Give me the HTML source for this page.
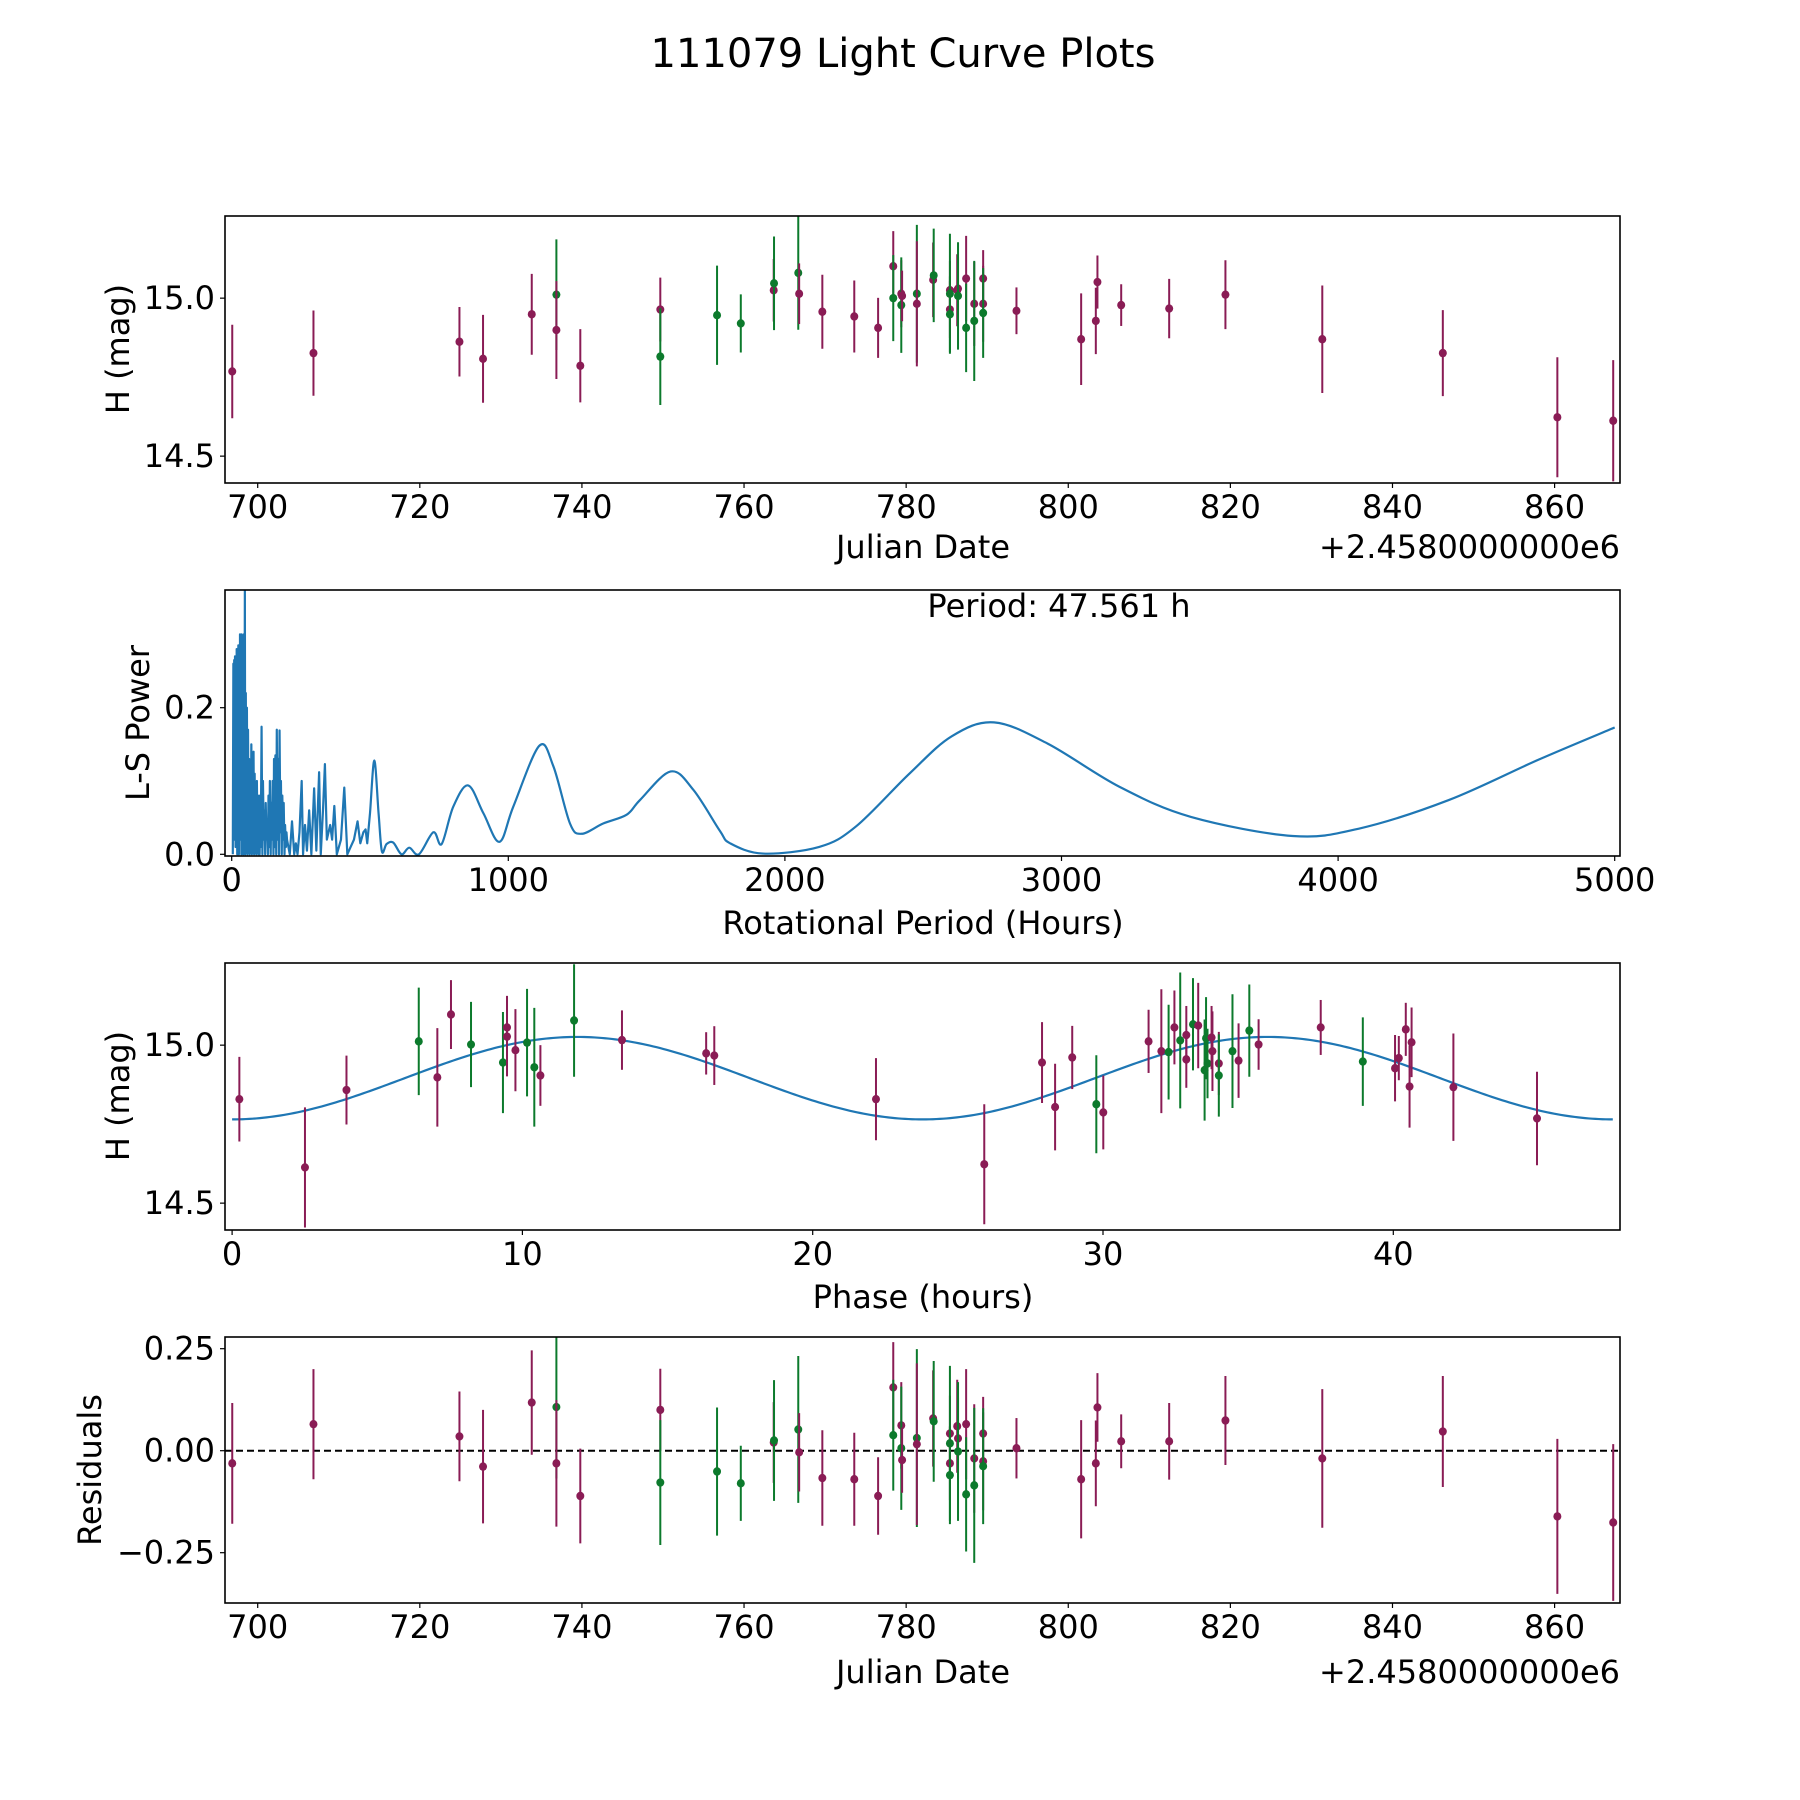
<!DOCTYPE html>
<html><head><meta charset="utf-8"><style>
html,body{margin:0;padding:0;background:#fff;}
svg{display:block;font-family:"DejaVu Sans","Liberation Sans",sans-serif;}
</style></head><body>
<svg id="fig" width="1800" height="1800" viewBox="0 0 1800 1800" xmlns="http://www.w3.org/2000/svg">
<rect width="1800" height="1800" fill="#fff"/>
<text x="903" y="54" font-size="40" text-anchor="middle" dominant-baseline="central">111079 Light Curve Plots</text>
</svg>
<script>
// ---- Data: observations (panels 1 & 4)
const jdVals = [696.86,706.88,724.89,727.8,733.81,736.85,736.85,739.8,749.67,749.67,756.67,759.6,763.66,763.7,766.69,766.8,769.66,773.6,776.54,778.41,778.41,779.4,779.4,779.5,781.32,781.32,783.33,783.4,785.4,785.4,785.4,785.4,786.3,786.4,786.4,787.4,787.4,788.4,788.4,789.5,789.5,789.5,793.61,801.59,803.4,803.6,806.53,812.45,819.39,831.34,846.21,860.34,867.23];
const magVals = [14.768,14.826,14.862,14.808,14.949,15.011,14.899,14.786,14.964,14.815,14.946,14.92,15.025,15.047,15.08,15.014,14.957,14.942,14.906,15.101,15.0,15.014,14.978,15.007,15.014,14.982,15.058,15.072,15.025,15.014,14.964,14.949,15.025,15.03,15.007,15.062,14.906,14.982,14.928,15.062,14.982,14.953,14.96,14.87,14.928,15.051,14.978,14.967,15.011,14.87,14.826,14.623,14.612];
const residVals = [-0.031,0.065,0.035,-0.039,0.118,0.107,-0.031,-0.111,0.10,-0.078,-0.051,-0.08,0.02,0.025,0.052,-0.004,-0.067,-0.07,-0.111,0.155,0.038,0.062,0.006,-0.023,0.031,0.016,0.079,0.072,0.042,0.018,-0.031,-0.06,0.06,0.03,-0.002,0.065,-0.107,-0.019,-0.085,0.042,-0.026,-0.038,0.006,-0.07,-0.031,0.106,0.023,0.023,0.074,-0.019,0.047,-0.161,-0.176];
const errVals = [0.148,0.135,0.11,0.139,0.128,0.175,0.155,0.116,0.101,0.153,0.157,0.092,0.099,0.148,0.18,0.096,0.117,0.114,0.095,0.111,0.136,0.106,0.151,0.08,0.218,0.198,0.118,0.148,0.093,0.19,0.09,0.12,0.114,0.1,0.17,0.135,0.14,0.133,0.19,0.09,0.12,0.142,0.074,0.145,0.105,0.084,0.066,0.094,0.109,0.17,0.136,0.19,0.192];
const filterVals = ['P','P','P','P','P','G','P','P','P','G','G','G','P','G','G','P','P','P','P','P','G','P','G','P','G','P','P','G','P','G','P','G','P','P','G','P','G','P','G','P','P','G','P','P','P','P','P','P','P','P','P','P','P'];
// ---- Data: phased (panel 3)
const phaseVals = [0.25,2.51,3.94,6.43,7.07,7.54,8.23,9.33,9.47,9.47,9.76,10.16,10.41,10.62,11.78,13.43,16.33,16.61,22.18,25.91,27.90,28.35,28.94,29.77,30.01,31.57,32.01,32.26,32.46,32.66,32.87,32.87,33.10,33.28,33.50,33.55,33.6,33.74,33.77,33.99,33.99,34.46,34.67,35.04,35.36,37.50,38.95,40.06,40.19,40.43,40.56,40.63,42.07,44.95];
const phaseMag = [14.829,14.613,14.858,15.012,14.898,15.097,15.002,14.945,15.056,15.027,14.984,15.008,14.93,14.904,15.078,15.016,14.974,14.967,14.829,14.623,14.945,14.804,14.961,14.813,14.787,15.012,14.981,14.978,15.056,15.015,15.032,14.955,15.066,15.062,14.921,15.022,14.942,15.024,14.981,14.942,14.904,14.981,14.951,15.046,15.002,15.056,14.948,14.927,14.959,15.05,14.869,15.009,14.867,14.768];
const phaseErr = [0.134,0.19,0.109,0.17,0.156,0.109,0.135,0.16,0.1,0.126,0.13,0.17,0.188,0.096,0.178,0.094,0.067,0.093,0.13,0.19,0.128,0.137,0.1,0.155,0.117,0.1,0.196,0.15,0.117,0.215,0.092,0.09,0.146,0.135,0.16,0.13,0.11,0.1,0.126,0.1,0.13,0.18,0.118,0.146,0.08,0.087,0.14,0.105,0.07,0.084,0.13,0.11,0.17,0.148];
const phaseFilter = ['P','P','P','G','P','P','G','G','P','P','P','G','G','P','G','P','P','P','P','P','P','P','P','G','P','P','P','G','P','G','P','P','G','P','G','G','G','P','P','P','G','G','P','G','P','P','G','P','P','P','P','P','P','P'];
const modelParams = [14.8955, 0.1305, 23.78, 47.561]; // mean, amplitude, half-period, period
// ---- Data: periodogram (panel 2)
const lsPeriods = [4,6,8,9,11,12,14,15,17,18,20,21,23,24,26,27,29,30,32,33,35,36,38,40,42,44,46,47.56,49,51,53,55,57,59,61,63,65,67,69,71,73,75,77,79,81,83,85,87,89,91,93,95,97,99,101,103,105,108,111,113,116,118,121,123,126,128,131,133,136,138,141,143,146,148,151,153,156,158,161,163,166,168,171,173,176,178,181,183,186,188,191,193,196,198,200,210,218,226,232,238,245,253,258,265,272,280,288,298,306,316,322,330,337,344,356,363,371,380,395,407,418,430,442,455,465,476,484,490,500,515.6,531,543,560,584,614,642,677,729,759,801,855,910,968,1018,1112,1163,1223,1265,1343,1428,1476,1587,1669,1765,1802,1921,2124,2257,2450,2603,2756,2950,3210,3468,3836,4075,4400,4724,5000];
const lsPower = [0.0,0.26,0.02,0.265,0.05,0.27,0.01,0.225,0.08,0.28,0.0,0.27,0.06,0.285,0.0,0.22,0.04,0.3,0.02,0.225,0.0,0.3,0.05,0.26,0.0,0.3,0.02,0.361,0.0,0.22,0.03,0.2,0.0,0.17,0.02,0.13,0.0,0.12,0.03,0.15,0.0,0.1,0.04,0.14,0.0,0.11,0.02,0.09,0.0,0.1,0.03,0.07,0.0,0.08,0.0,0.06,0.01,0.174,0.0,0.1,0.02,0.06,0.0,0.07,0.02,0.045,0.0,0.08,0.01,0.1,0.0,0.07,0.02,0.1,0.0,0.13,0.01,0.135,0.0,0.17,0.02,0.13,0.0,0.169,0.03,0.1,0.0,0.08,0.02,0.07,0.0,0.04,0.01,0.03,0.02,0.0,0.045,0.0,0.015,0.0,0.03,0.1,0.0,0.04,0.005,0.06,0.0,0.09,0.005,0.112,0.0,0.06,0.123,0.02,0.04,0.02,0.066,0.0,0.02,0.091,0.0,0.01,0.02,0.045,0.015,0.03,0.034,0.015,0.056,0.128,0.056,0.004,0.014,0.016,0.0,0.009,0.0,0.03,0.014,0.065,0.094,0.056,0.017,0.065,0.148,0.12,0.042,0.028,0.042,0.054,0.074,0.113,0.088,0.032,0.015,0.001,0.010,0.038,0.11,0.161,0.18,0.151,0.092,0.051,0.025,0.035,0.074,0.129,0.173];
// ---- Tick labels
const jdTicks = [700,720,740,760,780,800,820,840,860];
const magTicks = [15.0,14.5];
const lsXTicks = [0,1000,2000,3000,4000,5000];
const lsYTicks = [0.0,0.2];
const phaseTicks = [0,10,20,30,40];
const residTicks = [0.25,0.0,-0.25];

const NS='http://www.w3.org/2000/svg';
const svg=document.getElementById('fig');
const PURPLE='#8a1c55', GREEN='#0c7a2c', BLUE='#1f77b4';
const L=225, R=1620, FS=32;
function mk(tag,attrs,parent){const e=document.createElementNS(NS,tag);for(const k in attrs)e.setAttribute(k,attrs[k]);(parent||svg).appendChild(e);return e;}
function lin(d0,d1,p0,p1){return v=>p0+(v-d0)*(p1-p0)/(d1-d0);}

function panel(name,top,bot,xs,ys,xt,xtFmt,yt,ytFmt){
  const g=mk('g',{});
  
  
  const clipId='clip-'+name;
  const cp=mk('clipPath',{id:clipId},g);
  mk('rect',{x:L,y:top,width:R-L,height:bot-top},cp);
  const plot=mk('g',{'clip-path':'url(#'+clipId+')'},g);
  xt.forEach(v=>{const x=xs(v);
    mk('line',{x1:x,x2:x,y1:bot,y2:bot+5,stroke:'#000','stroke-width':1.2},g);
    const lb=mk('text',{x:x,y:bot+24,'font-size':FS,'text-anchor':'middle','dominant-baseline':'central'},g);
    lb.textContent=xtFmt(v);
    
    
  });
  yt.forEach(v=>{const y=ys(v);
    mk('line',{x1:L-5,x2:L,y1:y,y2:y,stroke:'#000','stroke-width':1.2},g);
    const lb=mk('text',{x:L-10,y:y,'font-size':FS,'text-anchor':'end','dominant-baseline':'central'},g);
    lb.textContent=ytFmt(v);
    
    
  });
  return {g,plot,finish:()=>{
    const fr=mk('rect',{x:L,y:top,width:R-L,height:bot-top,fill:'none',stroke:'#000','stroke-width':1.6},g);
    
    
  }};
}
function label(txt,x,y,rot,name){
  const t=mk('text',{x:x,y:y,'font-size':FS,'text-anchor':'middle','dominant-baseline':'central',transform:rot?`rotate(-90 ${x} ${y})`:''});
  t.textContent=txt;
  
  
}
function errPoint(parent,x,y,yTop,yBot,col,name){
  mk('line',{x1:x,x2:x,y1:yTop,y2:yBot,stroke:col,'stroke-width':2},parent);
  const c=mk('ellipse',{cx:x,cy:y,rx:4,ry:4.2,fill:col},parent);
  
  
}
const f1=v=>v.toFixed(1);

// Panel 1: light curve
{
  const top=216,bot=483;
  const xs=lin(700,860,257.7,1554.6), ys=lin(14.415,15.26,bot,top);
  const p=panel('light-curve-panel',top,bot,xs,ys,jdTicks,String,magTicks,f1);
  jdVals.forEach((jd,i)=>{const col=filterVals[i]==='G'?GREEN:PURPLE;
    errPoint(p.plot,xs(jd),ys(magVals[i]),ys(magVals[i]+errVals[i]),ys(magVals[i]-errVals[i]),col,'data-point');});
  p.finish();
  label('Julian Date',923,547,false,'x-axis-title-julian-date');
  const o=mk('text',{x:R,y:547,'font-size':FS,'text-anchor':'end','dominant-baseline':'central'});
  o.textContent='+2.4580000000e6';
  
  
  label('H (mag)',118,349,true,'y-axis-title-mag');
}
// Panel 2: periodogram
{
  const top=590,bot=856;
  const xs=lin(0,1000,231.7,508.3), ys=lin(0,0.2,854.3,707.7);
  const p=panel('periodogram-panel',top,bot,xs,ys,lsXTicks,String,lsYTicks,f1);
  const pts=lsPeriods.map((v,i)=>[xs(v),ys(lsPower[i])]);
  let d='M'+pts[0][0].toFixed(2)+' '+pts[0][1].toFixed(2);
  for(let i=1;i<pts.length;i++){
    if(lsPeriods[i]<=500){d+=' L'+pts[i][0].toFixed(2)+' '+pts[i][1].toFixed(2);continue;}
    const p0=pts[i-2]||pts[i-1],p1=pts[i-1],p2=pts[i],p3=pts[i+1]||pts[i];
    const c1x=p1[0]+(p2[0]-p0[0])/6,c1y=p1[1]+(p2[1]-p0[1])/6;
    const c2x=p2[0]-(p3[0]-p1[0])/6,c2y=p2[1]-(p3[1]-p1[1])/6;
    d+=` C${c1x.toFixed(2)} ${c1y.toFixed(2)} ${c2x.toFixed(2)} ${c2y.toFixed(2)} ${p2[0].toFixed(2)} ${p2[1].toFixed(2)}`;
  }
  const pl=mk('path',{d:d,fill:'none',stroke:BLUE,'stroke-width':2.2,'stroke-linejoin':'round'},p.plot);
  
  
  p.finish();
  const t=mk('text',{x:1059,y:606,'font-size':FS,'text-anchor':'middle','dominant-baseline':'central'});
  t.textContent='Period: 47.561 h';
  
  
  label('Rotational Period (Hours)',923,923,false,'x-axis-title-period');
  label('L-S Power',138,723,true,'y-axis-title-power');
}
// Panel 3: phased
{
  const top=963,bot=1230;
  const xs=lin(0,10,232.1,522.4), ys=lin(14.415,15.26,bot,top);
  const p=panel('phase-panel',top,bot,xs,ys,phaseTicks,String,magTicks,f1);
  let d='';
  for(let k=0;k<=400;k++){const ph=modelParams[3]*k/400;
    const m=modelParams[0]-modelParams[1]*Math.cos(2*Math.PI*ph/modelParams[2]);
    d+=(k?'L':'M')+xs(ph).toFixed(2)+' '+ys(m).toFixed(2)+' ';}
  const ml=mk('path',{d:d,fill:'none',stroke:BLUE,'stroke-width':2.2},p.plot);
  
  
  phaseVals.forEach((ph,i)=>{const col=phaseFilter[i]==='G'?GREEN:PURPLE;
    errPoint(p.plot,xs(ph),ys(phaseMag[i]),ys(phaseMag[i]+phaseErr[i]),ys(phaseMag[i]-phaseErr[i]),col,'phase-point');});
  p.finish();
  label('Phase (hours)',923,1297,false,'x-axis-title-phase');
  label('H (mag)',118,1096,true,'y-axis-title-mag-phase');
}
// Panel 4: residuals
{
  const top=1337,bot=1603;
  const xs=lin(700,860,257.7,1554.6), ys=lin(0,0.25,1450.7,1348.7);
  const fmt=v=>(v<0?'\u2212':'')+Math.abs(v).toFixed(2);
  const p=panel('residuals-panel',top,bot,xs,ys,jdTicks,String,residTicks,fmt);
  const zl=mk('line',{x1:L,x2:R,y1:ys(0),y2:ys(0),stroke:'#000','stroke-width':2,'stroke-dasharray':'7,4'},p.plot);
  
  
  jdVals.forEach((jd,i)=>{const col=filterVals[i]==='G'?GREEN:PURPLE;
    errPoint(p.plot,xs(jd),ys(residVals[i]),ys(residVals[i]+errVals[i]),ys(residVals[i]-errVals[i]),col,'residual-point');});
  p.finish();
  label('Julian Date',923,1672,false,'x-axis-title-julian-date-resid');
  const o=mk('text',{x:R,y:1672,'font-size':FS,'text-anchor':'end','dominant-baseline':'central'});
  o.textContent='+2.4580000000e6';
  
  
  label('Residuals',90,1470,true,'y-axis-title-residuals');
}
</script>
</body></html>
